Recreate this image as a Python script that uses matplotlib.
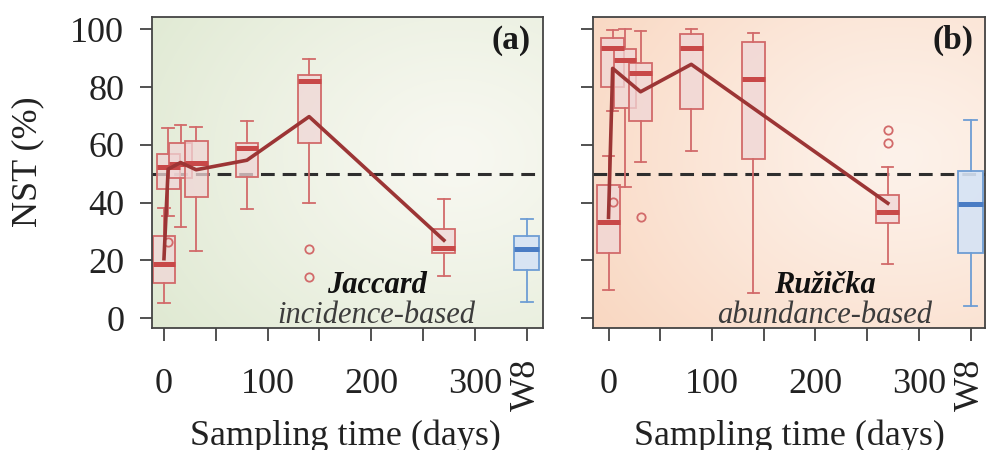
import numpy as np
import matplotlib
matplotlib.use("Agg")
import matplotlib.pyplot as plt
from matplotlib.colors import to_rgb

plt.rcParams['font.family'] = ['Liberation Serif', 'DejaVu Serif']

# ---------------- data ----------------
days = [0, 4, 16, 31, 80, 140, 270]
w8_pos = 350
xtick_pos = [0, 50, 100, 150, 200, 250, 300, 350]
xtick_labels = ['0', '', '100', '', '200', '', '300', 'W8']
ytick_pos = [0, 20, 40, 60, 80, 100]
ytick_labels = ['0', '20', '40', '60', '80', '100']

# Panel (a) Jaccard
jac_q1 = [12.2, 44.8, 48.5, 42.1, 48.9, 60.8, 22.7]
jac_med = [18.6, 52.2, 53.5, 53.8, 59.1, 82.2, 24.4]
jac_q3 = [28.6, 56.7, 60.6, 61.2, 60.6, 84.2, 30.9]
jac_lo = [5.4, 35.4, 31.5, 23.4, 37.8, 39.9, 14.7]
jac_hi = [38.3, 65.7, 67.0, 66.2, 68.3, 89.8, 41.1]
jac_fliers = [[], [26.3], [], [], [], [24.0, 14.2], []]
jac_mean = [20.6, 51.6, 53.9, 51.4, 54.7, 69.8, 27.0]
jac_w8 = dict(q1=16.7, med=24.0, q3=28.5, lo=5.5, hi=34.4)

# Panel (b) Ruzicka
ruz_q1 = [22.7, 80.2, 72.7, 68.3, 72.5, 55.2, 33.0]
ruz_med = [33.2, 93.5, 89.3, 84.8, 93.7, 82.7, 36.9]
ruz_q3 = [46.0, 97.0, 93.1, 88.3, 98.3, 95.8, 42.6]
ruz_lo = [9.8, 71.7, 45.6, 54.0, 58.0, 8.8, 18.8]
ruz_hi = [56.0, 99.8, 100.0, 99.6, 100.0, 98.6, 52.2]
ruz_fliers = [[], [40.3], [], [35.2], [], [], [65.3, 60.8]]
ruz_mean = [34.9, 86.5, 82.9, 78.4, 87.9, 72.7, 39.8]
ruz_w8 = dict(q1=22.7, med=39.4, q3=51.0, lo=4.2, hi=68.7)

neutral = 50

# ---------------- style ----------------
RED_EDGE = '#d26a6a'
RED_FILL = (0.94, 0.84, 0.84, 0.75)
RED_MED = '#c84848'
MEAN_COL = '#9c3535'
BLUE_EDGE = '#6e9dd4'
BLUE_FILL = (0.84, 0.89, 0.96, 0.9)
BLUE_MED = '#4a7cc4'
FS = 26


def background(ax, inner, outer, cx, cy):
    yy, xx = np.mgrid[0:1:300j, 0:1:300j]
    d = np.sqrt((xx - cx) ** 2 + (yy - cy) ** 2)
    d = d / d.max()
    d = d ** 1.2
    ci = np.array(to_rgb(inner))
    co = np.array(to_rgb(outer))
    img = ci * (1 - d)[..., None] + co * d[..., None]
    ax.imshow(img, extent=[0, 1, 0, 1], transform=ax.transAxes,
              aspect='auto', origin='lower', zorder=0, interpolation='bilinear')


def draw_panel(ax, q1, med, q3, lo, hi, fliers, mean, w8, xlim, letter,
               name, sub, bg_inner, bg_outer, txt_x):
    background(ax, bg_inner, bg_outer, 0.78, 0.55)
    stats = []
    for i in range(len(days)):
        stats.append(dict(med=med[i], q1=q1[i], q3=q3[i],
                          whislo=lo[i], whishi=hi[i], fliers=fliers[i]))
    ax.axhline(neutral, color='#2e2e2e', lw=2.2, dashes=(4.5, 2.6), zorder=1.5)
    ax.bxp(stats, positions=days, widths=22, capwidths=11, patch_artist=True,
           showfliers=True,
           boxprops=dict(facecolor=RED_FILL, edgecolor=RED_EDGE, linewidth=1.3),
           whiskerprops=dict(color=RED_EDGE, linewidth=1.3),
           capprops=dict(color=RED_EDGE, linewidth=1.3),
           medianprops=dict(color=RED_MED, linewidth=3.6, solid_capstyle='butt'),
           flierprops=dict(marker='o', markerfacecolor='none',
                           markeredgecolor=RED_EDGE, markersize=6,
                           markeredgewidth=1.3),
           zorder=2)
    ax.bxp([dict(med=w8['med'], q1=w8['q1'], q3=w8['q3'],
                 whislo=w8['lo'], whishi=w8['hi'], fliers=[])],
           positions=[w8_pos], widths=24, capwidths=12, patch_artist=True,
           boxprops=dict(facecolor=BLUE_FILL, edgecolor=BLUE_EDGE, linewidth=1.3),
           whiskerprops=dict(color=BLUE_EDGE, linewidth=1.3),
           capprops=dict(color=BLUE_EDGE, linewidth=1.3),
           medianprops=dict(color=BLUE_MED, linewidth=3.6, solid_capstyle='butt'),
           zorder=2)
    ax.plot(days, mean, color=MEAN_COL, lw=2.6, zorder=4,
            solid_joinstyle='round')
    ax.set_xlim(*xlim)
    ax.set_ylim(-3.4, 104.4)
    ax.set_xticks(xtick_pos)
    ax.set_xticklabels(xtick_labels, va='center')
    ax.get_xticklabels()[-1].set_rotation(90)
    ax.set_yticks(ytick_pos)
    ax.tick_params(axis='both', direction='out', length=9, width=1.2,
                   color='#333333', labelsize=FS, labelcolor='#222222')
    ax.tick_params(axis='x', pad=32)
    ax.tick_params(axis='y', pad=11)
    for s in ax.spines.values():
        s.set_color('#444444')
        s.set_linewidth(1.3)
    ax.text(0.918, 0.925, letter, transform=ax.transAxes, ha='center',
            va='center', fontsize=24, fontweight='bold', color='#1a1a1a')
    ax.text(txt_x, 0.136, name, transform=ax.transAxes, ha='center',
            va='center', fontsize=22, fontweight='bold', fontstyle='italic',
            color='#111111', zorder=5)
    ax.text(txt_x, 0.04, sub, transform=ax.transAxes, ha='center',
            va='center', fontsize=22, fontstyle='italic', color='#3c3c3c',
            zorder=5)


fig = plt.figure(figsize=(9.88, 4.5), dpi=100)
axa = fig.add_axes([0.1538, 0.2711, 0.3957, 0.6918])
axb = fig.add_axes([0.6002, 0.2711, 0.3968, 0.6918])

draw_panel(axa, jac_q1, jac_med, jac_q3, jac_lo, jac_hi, jac_fliers,
           jac_mean, jac_w8, (-11.6, 365.5), '(a)', 'Jaccard',
           'incidence-based', '#f8f8f1', '#dfe9d2', 0.575)
draw_panel(axb, ruz_q1, ruz_med, ruz_q3, ruz_lo, ruz_hi, ruz_fliers,
           ruz_mean, ruz_w8, (-15, 364), '(b)', 'Ružička',
           'abundance-based', '#fdf2ea', '#f9d7c1', 0.592)

axa.set_yticklabels(ytick_labels)
axb.set_yticklabels([])

fig.text(0.0283, 0.64, 'NST (%)', rotation=90, ha='center', va='center',
         fontsize=FS, color='#222222')
fig.text(0.350, 0.012, 'Sampling time (days)', ha='center', va='baseline',
         fontsize=FS, color='#222222')
fig.text(0.799, 0.012, 'Sampling time (days)', ha='center', va='baseline',
         fontsize=FS, color='#222222')

fig.savefig('out.png', dpi=100)
